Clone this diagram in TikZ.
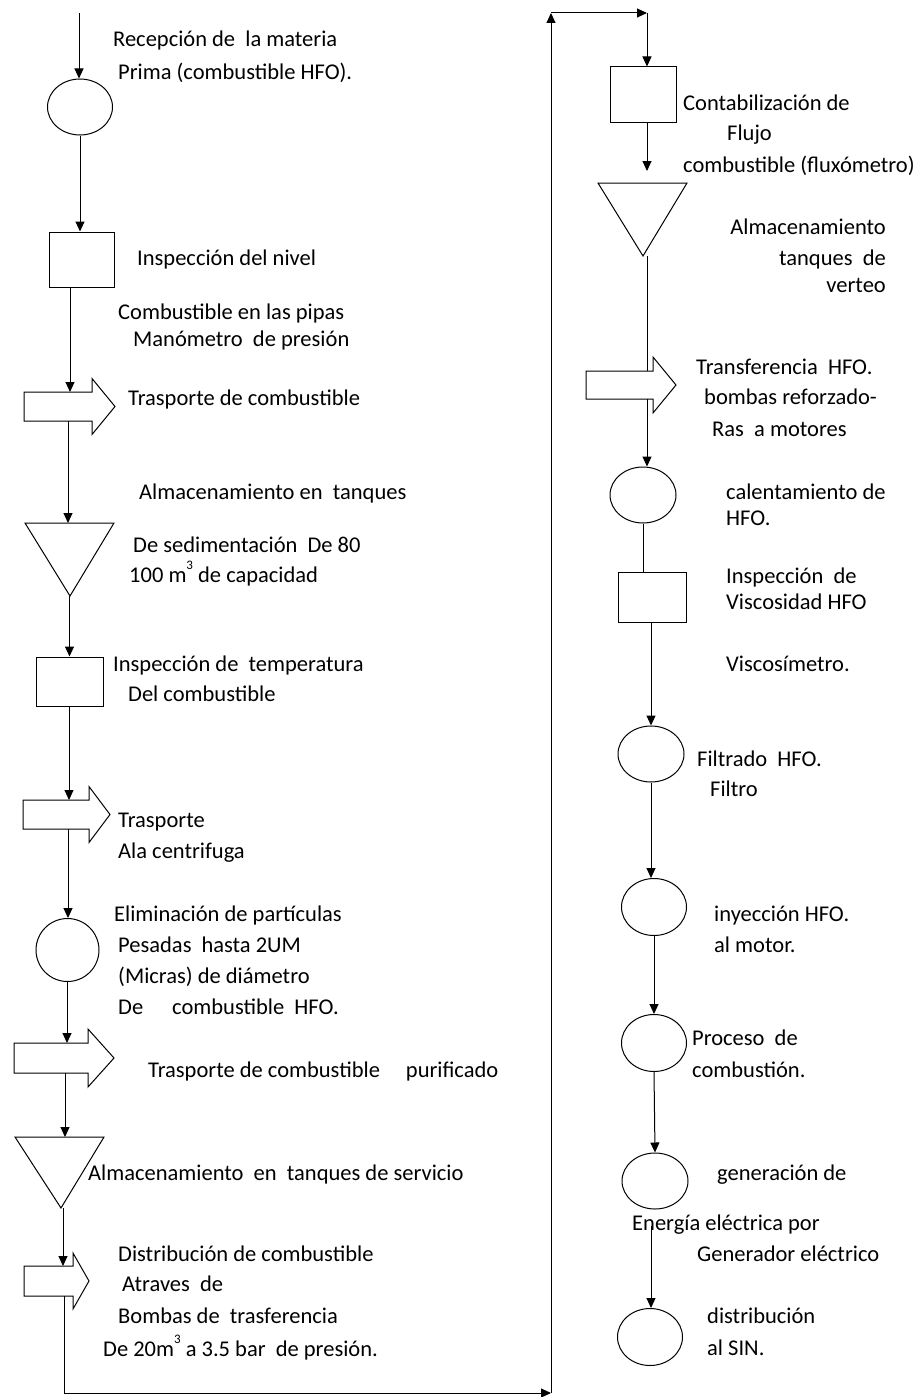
\documentclass[tikz,border=0pt]{standalone}
\usepackage{fontspec}
\setmainfont{Carlito}
\usetikzlibrary{arrows.meta,shapes.geometric,calc}
\tikzset{
  ln/.style={line width=1.0pt},
  flow/.style={ln,-{Triangle[length=10pt,width=9pt]}},
  circ/.style={ellipse,draw,ln,inner sep=0pt},
  sq/.style={rectangle,draw,ln,inner sep=0pt},
  ghost/.style={rectangle,inner sep=0pt,outer sep=0pt,draw=none},
  lbl/.style={anchor=base west,inner sep=0pt,font=\fontsize{22.5}{27}\selectfont},
  lblr/.style={lbl,anchor=base east},
}
% name, x0, xb(head base), xt(tip), yc, body half height, head half height
\newcommand\blkarrow[7]{%
  \node[ghost,minimum width={#4-#2},minimum height={2*#7}] (#1) at ({(#2+#4)/2},#5) {};
  \draw[ln,line join=miter] (#2,{#5-#6}) -- (#3,{#5-#6}) -- (#3,{#5-#7}) -- (#4,#5) -- (#3,{#5+#7}) -- (#3,{#5+#6}) -- (#2,{#5+#6}) -- cycle;
}
% name, xl, xr, ytop, xapex, yapex
\newcommand\trishape[6]{%
  \node[ghost,minimum width={#3-#2},minimum height={#6-#4}] (#1) at ({(#2+#3)/2},{(#4+#6)/2}) {};
  \draw[ln] (#2,#4) -- (#3,#4) -- (#5,#6) -- cycle;
}
\newcommand\supthree{\raisebox{0.55em}{\fontsize{13}{13}\selectfont 3}}
\begin{document}
\begin{tikzpicture}[x=1pt,y=-1pt]
\fill[white] (0,0) rectangle (918,1397);
\useasboundingbox (0,0) rectangle (918,1397);

% ---------- left column shapes ----------
\coordinate (start) at (79,13);
\node[circ,minimum width=65,minimum height=56] (C1) at (80,107) {};
\node[sq,minimum width=65,minimum height=55] (S1) at (82,259.5) {};
\blkarrow{A1}{24}{92}{115}{406.5}{14.5}{28}
\coordinate (A1in) at (70,392); \coordinate (A1out) at (68,421);
\trishape{T1}{25}{114}{523}{70}{596}
\node[sq,minimum width=67,minimum height=49] (S2) at (69.5,681.5) {};
\blkarrow{A2}{23}{89}{110}{814.5}{14.5}{28}
\coordinate (A2in) at (69,800); \coordinate (A2out) at (68,829);
\node[circ,minimum width=63,minimum height=63] (C2) at (67.5,950) {};
\blkarrow{A3}{14}{88}{114}{1058}{15}{29}
\coordinate (A3in) at (67,1043); \coordinate (A3out) at (65,1073);
\trishape{T2}{15}{104}{1137}{61}{1208}
\blkarrow{A4}{24}{73}{89}{1281}{15}{28}
\coordinate (A4in) at (63,1266); \coordinate (A4out) at (64,1296);
\coordinate (K1) at (551,1393);
\coordinate (K2) at (551,13);
\coordinate (K3) at (647,13);

% ---------- right column shapes ----------
\node[sq,minimum width=66,minimum height=55] (R1) at (643,94.5) {};
\coordinate (R1gap) at (647,171);
\trishape{RT1}{598}{687}{183}{643}{256}
\blkarrow{RA}{586}{653}{676}{385}{14}{28}
\coordinate (RAin) at (647,371); \coordinate (RAout) at (647,399);
\node[circ,minimum width=66,minimum height=56] (RC1) at (643,495) {};
\node[sq,minimum width=68,minimum height=50] (RS2) at (652,597) {};
\node[circ,minimum width=66,minimum height=56] (RC2) at (651,754) {};
\node[circ,minimum width=65,minimum height=57] (RC3) at (654,907) {};
\node[circ,minimum width=65,minimum height=57] (RC4) at (654,1043) {};
\node[circ,minimum width=66,minimum height=56] (RC5) at (655,1181) {};
\coordinate (RC5gap) at (651,1226);
\node[circ,minimum width=65,minimum height=57] (RC6) at (650,1337) {};

% ---------- connectors ----------
\draw[flow] (start) -- (start |- C1.north);
\draw[flow] (C1.south) -- (C1.south |- S1.north);
\draw[flow] (S1.south -| A1in) -- (A1in);
\draw[flow] (A1out) -- (A1out |- T1.north);
\draw[flow] (T1.south) -- (T1.south |- S2.north);
\draw[flow] (S2.south -| A2in) -- (A2in);
\draw[flow] (A2out) -- (A2out |- C2.north);
\draw[flow] (C2.south -| A3in) -- (A3in);
\draw[flow] (A3out) -- (A3out |- T2.north);
\draw[flow] (T2.south -| A4in) -- (A4in);
\draw[flow] (A4out) |- (K1);
\draw[flow] (K1) -- (K2);
\draw[flow] (K2) -- (K3);
\draw[flow] (K3) -- (K3 |- R1.north);
\draw[flow] (R1.south -| R1gap) -- (R1gap);
\draw[ln] (RT1.south -| RAin) -- (RAin);
\draw[flow] (RAout) -- (RAout |- RC1.north);
\draw[ln] (RC1.south) -- (RC1.south |- RS2.north);
\draw[flow] (RS2.south -| RC2.north) -- (RC2.north);
\draw[flow] (RC2.south) -- (RC2.south |- RC3.north);
\draw[flow] (RC3.south) -- (RC4.north);
\draw[flow] (RC4.south) -- (RC5.north);
\draw[flow] (RC5gap) -- (RC5gap |- RC6.north);

% ---------- left labels ----------
\node[lbl] (l1) at (113,47) {Recepción de\ \ la materia};
\node[lbl] (l2) at (118,79) {Prima (combustible HFO).};
\node[lbl] (l3) at (137,265) {Inspección del nivel};
\node[lbl] (l4) at (118,319) {Combustible en las pipas};
\node[lbl] (l5) at (133,346) {Manómetro\ \ de presión};
\node[lbl] (l6) at (128,405) {Trasporte de combustible};
\node[lbl] (l7) at (139,499) {Almacenamiento en\ \ tanques};
\node[lbl] (l8) at (133,552) {De sedimentación\ \ De 80};
\node[lbl] (l9) at (129,582) {100 m\supthree\ de capacidad};
\node[lbl] (l10) at (113,671) {Inspección de\ \ temperatura};
\node[lbl] (l11) at (128,701) {Del combustible};
\node[lbl] (l12) at (118,827) {Trasporte};
\node[lbl] (l13) at (118,858) {Ala centrifuga};
\node[lbl] (l14) at (114,921) {Eliminación de partículas};
\node[lbl] (l15) at (118,952) {Pesadas\hspace{10pt}hasta 2UM};
\node[lbl] (l16) at (118,983) {(Micras) de diámetro};
\node[lbl] (l17) at (118,1014) {De\hspace{29pt}combustible\ \ HFO.};
\node[lbl] (l18) at (148,1077) {Trasporte de combustible\hspace{26pt}purificado};
\node[lbl] (l19) at (88,1180) {Almacenamiento\ \ en\ \ tanques de servicio};
\node[lbl] (l20) at (118,1261) {Distribución de combustible};
\node[lbl] (l21) at (122,1291) {Atraves\ \ de};
\node[lbl] (l22) at (118,1323) {Bombas de\ \ trasferencia};
\node[lbl] (l23) at (103,1356) {De 20m\supthree\ a 3.5 bar\ \ de presión.};

% ---------- right labels ----------
\node[lbl] (r1) at (683,110) {Contabilización de};
\node[lbl] (r2) at (727,140) {Flujo};
\node[lbl] (r3) at (683,172) {combustible (fluxómetro)};
\node[lblr] (r4) at (886,234) {Almacenamiento};
\node[lblr] (r5) at (886,265) {tanques\ \ de};
\node[lblr] (r6) at (886,292) {verteo};
\node[lbl] (r7) at (696,374) {Transferencia\ \ HFO.};
\node[lbl] (r8) at (704,404) {bombas reforzado-};
\node[lbl] (r9) at (712,436) {Ras\ \ a motores};
\node[lbl] (r10) at (726,499) {calentamiento de};
\node[lbl] (r11) at (726,525) {HFO.};
\node[lbl] (r12) at (726,583) {Inspección\ \ de};
\node[lbl] (r13) at (726,609) {Viscosidad HFO};
\node[lbl] (r14) at (726,671) {Viscosímetro.};
\node[lbl] (r15) at (697,766) {Filtrado\ \ HFO.};
\node[lbl] (r16) at (710,796) {Filtro};
\node[lbl] (r17) at (714,921) {inyección HFO.};
\node[lbl] (r18) at (714,952) {al motor.};
\node[lbl] (r19) at (692,1045) {Proceso\ \ de};
\node[lbl] (r20) at (692,1077) {combustión.};
\node[lbl] (r21) at (717,1180) {generación de};
\node[lbl] (r22) at (632,1230) {Energía eléctrica por};
\node[lbl] (r23) at (697,1261) {Generador eléctrico};
\node[lbl] (r24) at (707,1323) {distribución};
\node[lbl] (r25) at (707,1355) {al SIN.};
\end{tikzpicture}
\end{document}
